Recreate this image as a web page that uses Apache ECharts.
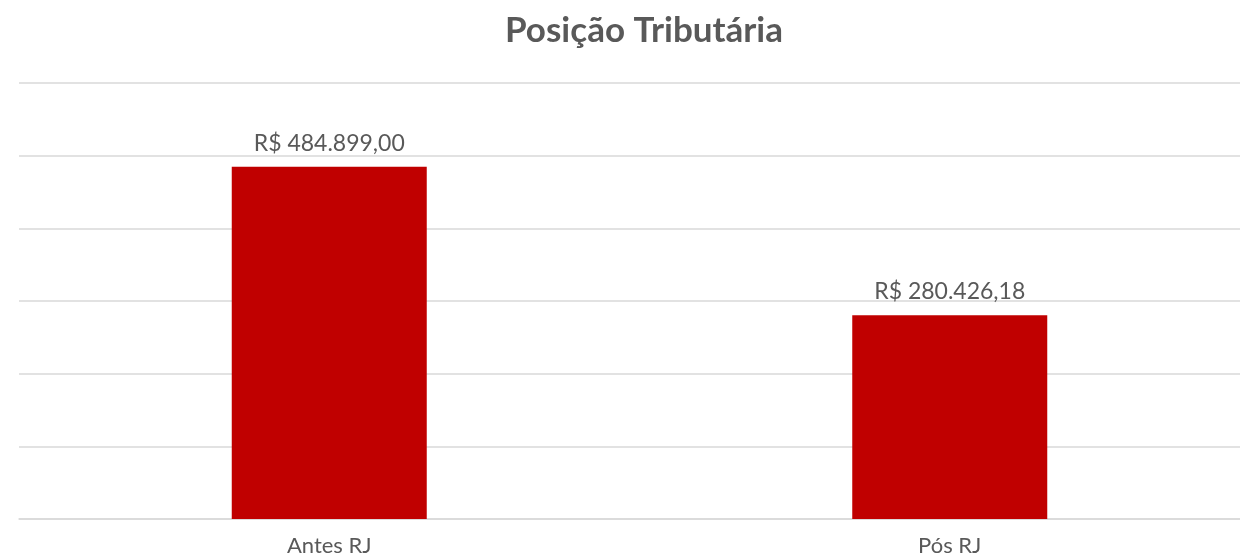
<!DOCTYPE html>
<html>
<head>
<meta charset="utf-8">
<script src="https://cdn.jsdelivr.net/npm/echarts@6/dist/echarts.min.js"></script>
<style>
  html, body { margin: 0; padding: 0; background: #fff; }
  #chart { width: 1240px; height: 558px; }
</style>
</head>
<body>
<div id="chart"></div>
<script>
// dados do gráfico
const categorias = ['Antes RJ', 'Pós RJ']
const valores = [484899.00, 280426.18]
const eixoMax = 600000
const eixoIntervalo = 100000

// formata no padrão brasileiro: R$ 484.899,00
function formatarReal(v) {
  return 'R$ ' + v.toLocaleString('pt-BR', { minimumFractionDigits: 2, maximumFractionDigits: 2 })
}

const fonte = 'Lato, "Noto Sans", sans-serif'
const myChart = echarts.init(document.getElementById('chart'))

myChart.setOption({
  animation: false,
  title: {
    text: 'Posição Tributária',
    left: 500,
    top: 8,
    textStyle: {
      color: '#595959',
      fontFamily: fonte,
      fontSize: 35,
      fontWeight: 'bold'
    }
  },
  grid: {
    left: 19,
    top: 83,
    right: -20,
    height: 436,
    outerBoundsMode: 'none'
  },
  xAxis: {
    type: 'category',
    data: categorias,
    axisTick: { show: false },
    axisLine: { lineStyle: { color: '#d9d9d9', width: 1.5 } },
    axisLabel: {
      color: '#595959',
      fontFamily: fonte,
      fontSize: 22,
      margin: 16
    }
  },
  yAxis: {
    type: 'value',
    min: 0,
    max: eixoMax,
    interval: eixoIntervalo,
    axisLabel: { show: false },
    axisLine: { show: false },
    axisTick: { show: false },
    splitLine: { lineStyle: { color: '#d9d9d9', width: 1.5 } }
  },
  series: [{
    type: 'bar',
    data: valores,
    barWidth: 195,
    itemStyle: { color: '#c00000' },
    label: {
      show: true,
      position: 'top',
      distance: 12,
      color: '#595959',
      fontFamily: fonte,
      fontSize: 23,
      formatter: p => formatarReal(p.value)
    }
  }]
})
</script>
</body>
</html>
